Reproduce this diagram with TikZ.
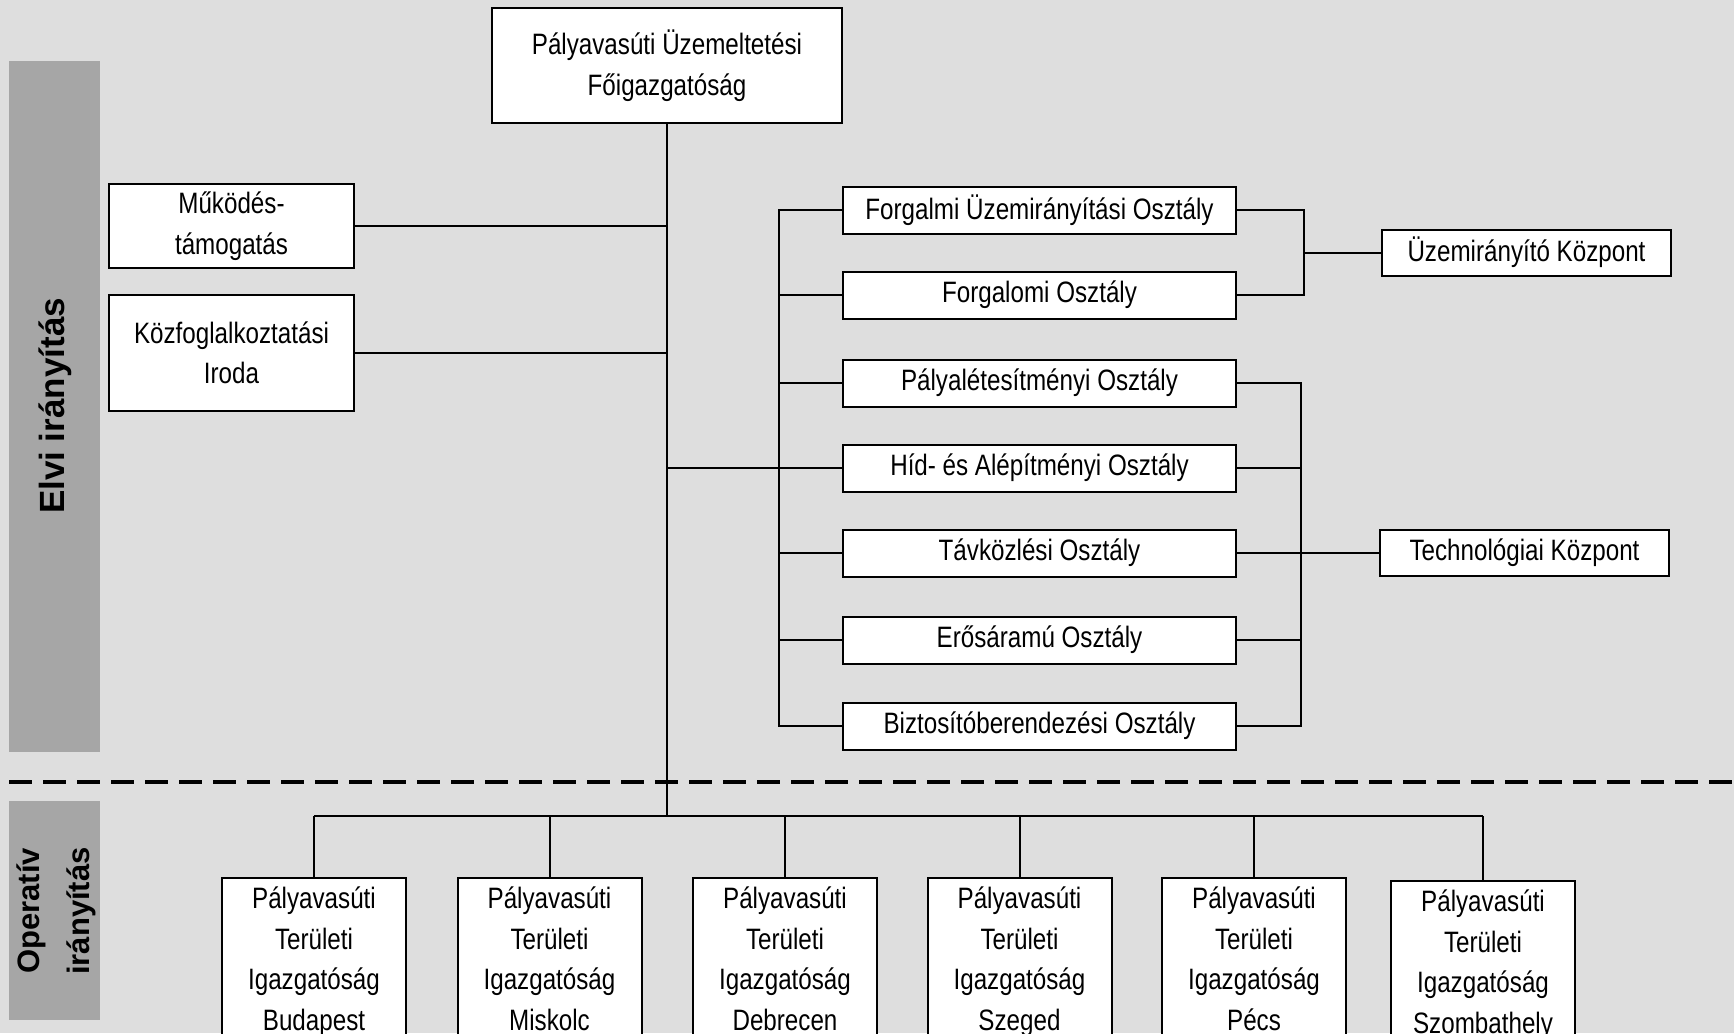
\documentclass[tikz,border=0pt]{standalone}
\usepackage{fontspec}
\setmainfont[FakeStretch=0.82]{Liberation Sans}
\newfontfamily\bandfont{Liberation Sans}
\usetikzlibrary{positioning}
\definecolor{bgray}{HTML}{DEDEDE}
\definecolor{bandgray}{HTML}{A6A6A6}
\begin{document}
\begin{tikzpicture}[x=1pt,y=-1pt,
  box/.style={draw,fill=white,line width=2pt,align=center,inner sep=0pt,
    font=\fontsize{29.5}{40.5}\selectfont},
  dept/.style={box,minimum width=393pt,minimum height=47pt},
  kozp/.style={box,minimum width=289pt,minimum height=46pt},
  ptig/.style={box,anchor=north,text width=184pt,minimum height=190pt,
    text depth=150pt,inner sep=0pt},
  conn/.style={line width=2pt},
  band/.style={fill=bandgray},
  bandtext/.style={rotate=90,align=center,font=\bandfont\bfseries}]
\useasboundingbox (0,0) rectangle (1734,1033);
\clip (0,0) rectangle (1734,1033);
\fill[bgray] (0,0) rectangle (1734,1033);
% bands
\fill[band] (9,61) rectangle (100,752);
\fill[band] (9,801) rectangle (100,1020);
\node[bandtext,font=\bandfont\bfseries\fontsize{35}{42}\selectfont] (elvi) at (55,406) {Elvi irányítás};
\node[bandtext,font=\bandfont\bfseries\fontsize{31}{50}\selectfont] (oper) at (56,911) {Operatív\\irányítás};
\path[draw,line width=4.5pt,dash pattern=on 23pt off 11pt] (9,782) -- (1734,782);
% boxes
\node[box,minimum width=350pt,minimum height=115pt] (main) at (667,65.5) {Pályavasúti Üzemeltetési\\Főigazgatóság};
\node[box,minimum width=245pt,minimum height=84pt] (mt) at (231.5,226) {Működés-\\támogatás};
\node[box,minimum width=245pt,minimum height=116pt] (ki) at (231.5,353) {Közfoglalkoztatási\\Iroda};
\node[dept] (fu) at (1039.5,210) {Forgalmi Üzemirányítási Osztály};
\node[dept] (fo) at (1039.5,295) {Forgalomi Osztály};
\node[dept] (pl) at (1039.5,383) {Pályalétesítményi Osztály};
\node[dept] (hi) at (1039.5,468) {Híd- és Alépítményi Osztály};
\node[dept] (ta) at (1039.5,553) {Távközlési Osztály};
\node[dept] (er) at (1039.5,640) {Erősáramú Osztály};
\node[dept] (bi) at (1039.5,726) {Biztosítóberendezési Osztály};
\node[kozp] (uk) at (1526.5,252.5) {Üzemirányító Központ};
\node[kozp] (tk) at (1524.5,553) {Technológiai Központ};
\node[ptig] (p1) at (314,877) {Pályavasúti\\Területi\\Igazgatóság\\Budapest};
\node[ptig] (p2) at (549.5,877) {Pályavasúti\\Területi\\Igazgatóság\\Miskolc};
\node[ptig] (p3) at (785,877) {Pályavasúti\\Területi\\Igazgatóság\\Debrecen};
\node[ptig] (p4) at (1019.5,877) {Pályavasúti\\Területi\\Igazgatóság\\Szeged};
\node[ptig] (p5) at (1254,877) {Pályavasúti\\Területi\\Igazgatóság\\Pécs};
\node[ptig] (p6) at (1483,880) {Pályavasúti\\Területi\\Igazgatóság\\Szombathely};
% connectors
\coordinate (tb) at (667,816);
\coordinate (bus) at (779,0);
\coordinate (ub) at (1304,0);
\coordinate (xb) at (1301,0);
\path[draw,conn] (main.south) -- (tb);
\path[draw,conn] (mt.east) -- (mt.east -| main.south);
\path[draw,conn] (ki.east) -- (ki.east -| main.south);
\path[draw,conn] (hi.west -| main.south) -- (hi.west);
\path[draw,conn] (fu.west) -| (bus |- bi.west) -- (bi.west);
\path[draw,conn] (fo.west -| bus) -- (fo.west);
\path[draw,conn] (pl.west -| bus) -- (pl.west);
\path[draw,conn] (ta.west -| bus) -- (ta.west);
\path[draw,conn] (er.west -| bus) -- (er.west);
\path[draw,conn] (fu.east) -| (ub |- fo.east) -- (fo.east);
\path[draw,conn] (ub |- uk.west) -- (uk.west);
\path[draw,conn] (pl.east) -| (xb |- bi.east) -- (bi.east);
\path[draw,conn] (hi.east) -- (hi.east -| xb);
\path[draw,conn] (er.east) -- (er.east -| xb);
\path[draw,conn] (ta.east) -- (tk.west);
\path[draw,conn] (p1.north |- tb) -- (p6.north |- tb);
\path[draw,conn] (p1.north |- tb) -- (p1.north);
\path[draw,conn] (p2.north |- tb) -- (p2.north);
\path[draw,conn] (p3.north |- tb) -- (p3.north);
\path[draw,conn] (p4.north |- tb) -- (p4.north);
\path[draw,conn] (p5.north |- tb) -- (p5.north);
\path[draw,conn] (p6.north |- tb) -- (p6.north);
\end{tikzpicture}
\end{document}
